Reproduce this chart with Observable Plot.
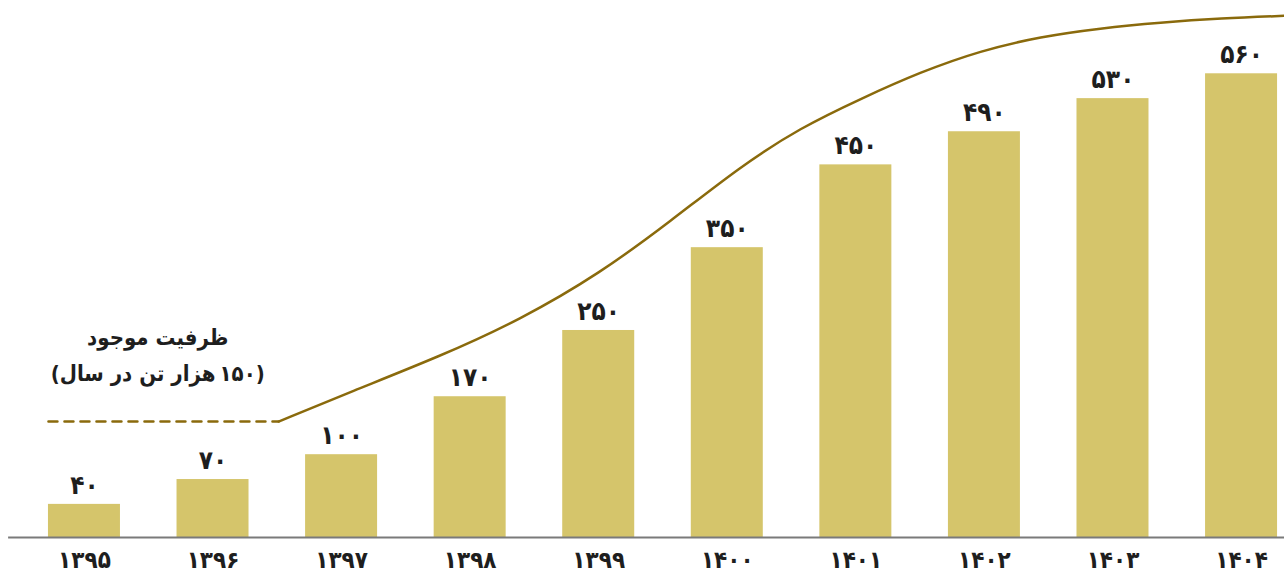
<!DOCTYPE html>
<html>
<head>
<meta charset="utf-8">
<script src="https://cdn.jsdelivr.net/npm/d3@7"></script>
<script src="https://cdn.jsdelivr.net/npm/@observablehq/plot@0.6"></script>
<style>
  html, body { margin: 0; padding: 0; background: #ffffff; }
  #chart svg { display: block; }
</style>
</head>
<body>
<div id="chart"></div>
<script>
// ---- data ----
const years = [1395, 1396, 1397, 1398, 1399, 1400, 1401, 1402, 1403, 1404];
const yearLabels = ["۱۳۹۵", "۱۳۹۶", "۱۳۹۷", "۱۳۹۸", "۱۳۹۹", "۱۴۰۰", "۱۴۰۱", "۱۴۰۲", "۱۴۰۳", "۱۴۰۴"];
const values = [40, 70, 100, 170, 250, 350, 450, 490, 530, 560];
const valueLabels = ["۴۰", "۷۰", "۱۰۰", "۱۷۰", "۲۵۰", "۳۵۰", "۴۵۰", "۴۹۰", "۵۳۰", "۵۶۰"];

// existing capacity (dashed) and planned capacity curve
const capDashYears = [1394.72, 1396.51];
const capDashValues = [140, 140];
const capCurveYears = [1396.51, 1397.07, 1397.77, 1398.39, 1399.01, 1399.56, 1400.10, 1400.57,
                       1401.04, 1401.50, 1401.97, 1402.44, 1402.90, 1403.37, 1403.84, 1404.34];
const capCurveValues = [140, 176, 219, 263, 319, 382, 448, 495,
                        530, 562, 588, 605, 615, 622, 627, 630];

const annoYears = [1395.57, 1395.57];
const annoValues = [241, 197];
const annoTexts = ["ظرفیت موجود", "(۱۵۰\u2009هزار تن در سال)"];

// ---- build tables ----
const bars = years.map((y, i) => ({year: y, value: values[i], label: valueLabels[i]}));
const dash = capDashYears.map((y, i) => ({year: y, value: capDashValues[i]}));
const curve = capCurveYears.map((y, i) => ({year: y, value: capCurveValues[i]}));
const anno = annoYears.map((y, i) => ({year: y, value: annoValues[i], text: annoTexts[i]}));
const labelOf = new Map(years.map((y, i) => [y, yearLabels[i]]));

const barHalf = 0.28;
const gold = "#d5c56b";
const lineColor = "#8a6a0c";
const font = "'DejaVu Sans Condensed', 'DejaVu Sans', sans-serif";

const chart = Plot.plot({
  width: 1284,
  height: 577,
  marginLeft: 0,
  marginRight: 0,
  marginTop: 0,
  marginBottom: 40,
  style: {fontFamily: font, background: "#ffffff"},
  x: {domain: [1394.347, 1404.334], axis: null},
  y: {domain: [0, 648.5], axis: null},
  marks: [
    Plot.rectY(bars, {x1: d => d.year - barHalf, x2: d => d.year + barHalf, y1: 0, y2: "value", fill: gold}),
    Plot.ruleY([0], {x1: 1394.41, x2: 1404.334, stroke: "#7a7a7a", strokeWidth: 2}),
    Plot.line(dash, {x: "year", y: "value", stroke: lineColor, strokeWidth: 2.5, strokeDasharray: "9,7"}),
    Plot.line(curve, {x: "year", y: "value", stroke: lineColor, strokeWidth: 2.5, curve: "basis"}),
    Plot.text(bars, {x: "year", y: "value", text: "label", dy: -19, fontSize: 26, fontWeight: "bold", fill: "#1e1e1e", lineAnchor: "middle"}),
    Plot.text(bars, {x: "year", y: 0, text: d => labelOf.get(d.year), dy: 23, fontSize: 24, fontWeight: "bold", fill: "#1e1e1e", lineAnchor: "middle"}),
    Plot.text(anno, {x: "year", y: "value", text: "text", fontSize: 22, fontWeight: "bold", fill: "#1e1e1e", lineAnchor: "middle"})
  ]
});

chart.querySelectorAll("text").forEach(t => {
  if (/[\u0600-\u06FF]/.test(t.textContent)) t.setAttribute("direction", "rtl");
});
document.getElementById("chart").appendChild(chart);
</script>
</body>
</html>
